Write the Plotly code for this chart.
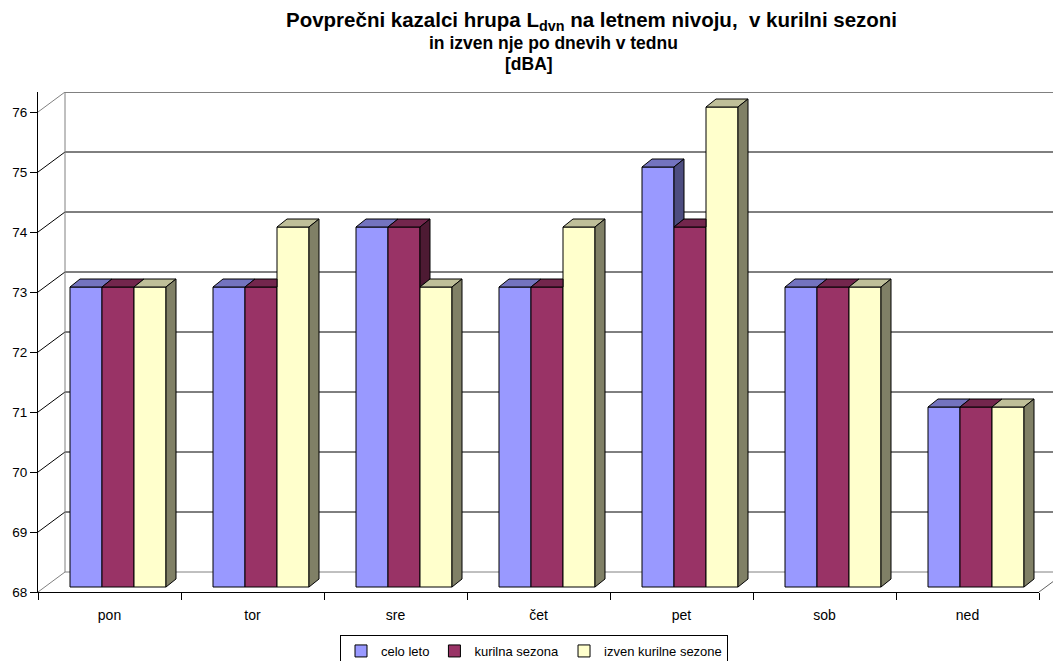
import plotly.graph_objects as go

# ---- data ----
days = ["pon", "tor", "sre", "čet", "pet", "sob", "ned"]
celo_leto = [73, 73, 74, 73, 75, 73, 71]
kurilna_sezona = [73, 73, 74, 73, 74, 73, 71]
izven_kurilne = [73, 74, 73, 74, 76, 73, 71]
series_names = ["celo leto", "kurilna sezona", "izven kurilne sezone"]
y_ticks = [68, 69, 70, 71, 72, 73, 74, 75, 76]

# ---- style / geometry ----
W, H = 1053, 661
L, R, T, B = 38, 14, 92, 69
plot_w = W - L - R          # 1001
plot_h = H - T - B          # 500
n_cat = len(days)
px_cat = plot_w / n_cat      # px per category
px_unit = 60.0               # px per dB
base = 68
bar_dx_px, bar_dy_px = 8.5, 5        # bar plane offset from front plane
wall_dx_px, wall_dy_px = 27, 20      # back wall offset
depth_dx_px, depth_dy_px = 10, 8     # bar depth
bargap = 1 - 96 / 143

colors = ["#9999FF", "#993366", "#FFFFCC"]
tops = ["#7373BF", "#73264D", "#BFBF99"]
sides = ["#4D4D80", "#4D1A33", "#808066"]
font = "Arial, 'Liberation Sans', sans-serif"

fig = go.Figure()
values = [celo_leto, kurilna_sezona, izven_kurilne]
for k, (nm, vals) in enumerate(zip(series_names, values)):
    fig.add_trace(go.Bar(
        x=days, y=[v - base for v in vals], base=base, name=nm,
        marker=dict(color=colors[k], line=dict(color="black", width=1)),
        xaxis="x", yaxis="y",
    ))
# invisible trace for front axes
fig.add_trace(go.Scatter(x=days, y=celo_leto, mode="markers", marker=dict(opacity=0),
                         showlegend=False, hoverinfo="skip", xaxis="x2", yaxis="y2"))

# bar plane axis ranges
x0b = -0.5 - bar_dx_px / px_cat
y0b = base - bar_dy_px / px_unit
fig.update_layout(
    xaxis=dict(type="category", range=[x0b, x0b + n_cat], visible=False, automargin=False),
    yaxis=dict(range=[y0b, y0b + plot_h / px_unit], visible=False, automargin=False),
    xaxis2=dict(type="category", overlaying="x", anchor="y", range=[-0.5, n_cat - 0.5],
                tickson="boundaries", ticks="outside", ticklen=7, tickcolor="black",
                ticklabelstandoff=10,
                showline=True, linecolor="black", linewidth=1, showgrid=False, automargin=False,
                tickfont=dict(family=font, size=14, color="black"), side="bottom"),
    yaxis2=dict(overlaying="y", anchor="x", range=[base, base + plot_h / px_unit],
                tickvals=y_ticks, ticks="outside", ticklen=7, tickcolor="black",
                showline=True, linecolor="black", linewidth=1, showgrid=False, zeroline=False,
                automargin=False,
                tickfont=dict(family=font, size=13.5, color="black"), side="left"),
)

shapes = []
# back wall gridlines and left wall diagonals (front-axis units)
wx = wall_dx_px / plot_w
wy = wall_dy_px / px_unit
right_edge = (W - L) / plot_w
for v in y_ticks:
    edge = v in (y_ticks[0], y_ticks[-1])
    col = "#808080" if edge else "black"
    wid = 2 if v == y_ticks[-1] else 1
    shapes.append(dict(type="line", xref="paper", yref="y2", x0=wx, x1=right_edge,
                       y0=v + wy, y1=v + wy, line=dict(color=col, width=wid), layer="below"))
    shapes.append(dict(type="line", xref="paper", yref="y2", x0=0, x1=wx,
                       y0=v, y1=v + wy, line=dict(color=col, width=1), layer="below"))
# back wall left edge and floor right diagonal
shapes.append(dict(type="line", xref="paper", yref="y2", x0=wx, x1=wx,
                   y0=y_ticks[0] + wy, y1=y_ticks[-1] + wy, line=dict(color="#808080", width=1), layer="below"))
shapes.append(dict(type="line", xref="paper", yref="y2", x0=1, x1=1 + wx,
                   y0=y_ticks[0], y1=y_ticks[0] + wy, line=dict(color="#606060", width=1), layer="below"))

# 3D faces of bars
ddx = depth_dx_px / px_cat
ddy = depth_dy_px / px_unit
bw = (1 - bargap) / 3
def poly(pts):
    return "M " + " L ".join(f"{x:.5f},{y:.5f}" for x, y in pts) + " Z"
for i in range(n_cat):
    hs = [values[k][i] for k in range(3)]
    for k in range(3):
        h = hs[k]
        xl = i - (1 - bargap) / 2 + k * bw
        xr = xl + bw
        nxt = hs[k + 1] if k < 2 else None
        # top face
        if nxt is not None and nxt >= h + ddy:
            top = [(xl, h), (xl + ddx, h + ddy), (xr, h + ddy), (xr, h)]
        else:
            top = [(xl, h), (xl + ddx, h + ddy), (xr + ddx, h + ddy), (xr, h)]
        shapes.append(dict(type="path", xref="x", yref="y", path=poly(top),
                           fillcolor=tops[k], line=dict(color="black", width=1), layer="above"))
        # side face
        side = None
        if nxt is None:
            side = [(xr, base), (xr + ddx, base + ddy), (xr + ddx, h + ddy), (xr, h)]
        elif nxt < h:
            side = [(xr, nxt), (xr, h), (xr + ddx, h + ddy), (xr + ddx, nxt + ddy)]
        if side:
            shapes.append(dict(type="path", xref="x", yref="y", path=poly(side),
                               fillcolor=sides[k], line=dict(color="black", width=1), layer="above"))

# title lines
title_lines = ["Povprečni kazalci hrupa L<sub>dvn</sub> na letnem nivoju,  v kurilni sezoni",
               "in izven nje po dnevih v tednu",
               "[dBA]"]
title_sizes = [20.5, 17.5, 17.5]
title_cx = [591, 553.5, 528.5]
title_cy = [21, 43, 64]
annotations = []
for txt, sz, cx, cy in zip(title_lines, title_sizes, title_cx, title_cy):
    annotations.append(dict(text=f"<b>{txt}</b>", xref="paper", yref="paper",
                            x=(cx - L) / plot_w, y=(H - B - cy) / plot_h,
                            xanchor="center", yanchor="middle", showarrow=False,
                            font=dict(family=font, size=sz, color="black")))

fig.update_layout(
    width=W, height=H, autosize=False,
    margin=dict(l=L, r=R, t=T, b=B, pad=0, autoexpand=False),
    paper_bgcolor="white", plot_bgcolor="white",
    barmode="group", bargap=bargap, bargroupgap=0,
    shapes=shapes, annotations=annotations,
    showlegend=True,
    legend=dict(orientation="h", x=(534 - L) / plot_w, y=(H - B - 635) / plot_h,
                xanchor="center", yanchor="top", bordercolor="black", borderwidth=1,
                bgcolor="white", font=dict(family=font, size=13, color="black"),
                itemwidth=30, tracegroupgap=0),
)
fig.write_html("out.html", config={"displayModeBar": False},
               post_script="document.body.style.margin='0';document.body.style.overflow='hidden';")
